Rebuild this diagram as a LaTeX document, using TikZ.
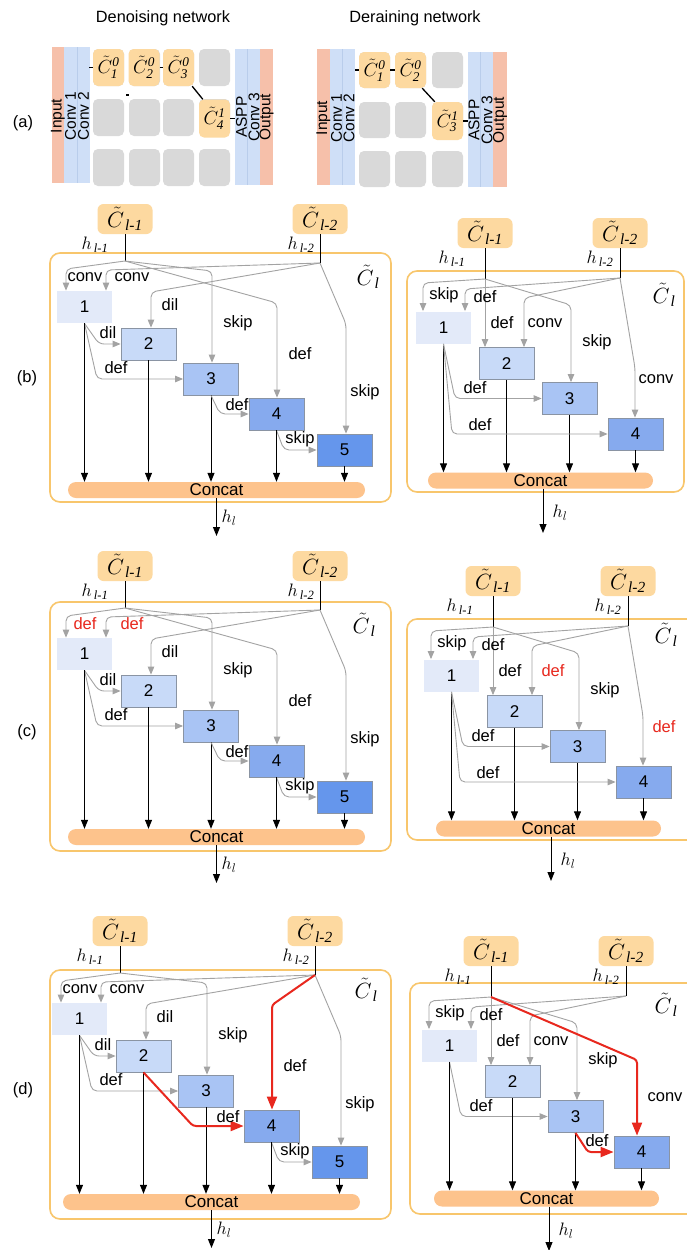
\RequirePackage{fix-cm}
\documentclass[tikz,border=0pt]{standalone}
\usepackage{amsmath}
\usepackage{fontspec}
\setmainfont{Liberation Sans}
\newfontfamily\tms{Liberation Serif}
\usetikzlibrary{arrows.meta}
\definecolor{corange}{HTML}{FDD9A0}
\definecolor{cbox}{HTML}{F8C66C}
\definecolor{cconcat}{HTML}{FDC38C}
\definecolor{cb1}{HTML}{E3EAF9}
\definecolor{cb2}{HTML}{C8DAF8}
\definecolor{cb3}{HTML}{A9C4F4}
\definecolor{cb4}{HTML}{86AAEE}
\definecolor{cb5}{HTML}{6596EC}
\definecolor{cbord}{HTML}{8A94A3}
\definecolor{cgray}{HTML}{A3A3A3}
\definecolor{cred}{HTML}{E8281E}
\definecolor{csalmon}{HTML}{F6C0AA}
\definecolor{cblue}{HTML}{CFDFF7}
\definecolor{cdiv}{HTML}{B9CDEB}
\definecolor{ccell}{HTML}{D9D9D9}
\newcommand\sx[1]{\text{\tms\itshape #1}}
\newcommand\Ct[1]{$\tilde{C}_{\,\sx{#1}}$}
\newcommand\Ca[2]{$\tilde{C}^{\sx{#1}}_{\sx{#2}}$}
\newcommand\hh[1]{$h_{\,\sx{#1}}$}
\tikzset{
 lab/.style={font=\fontsize{16.5}{18}\selectfont, inner sep=0pt},
 ttl/.style={font=\fontsize{16.3}{18}\selectfont, inner sep=0pt},
 rot/.style={font=\fontsize{15.5}{17}\selectfont, inner sep=0pt, rotate=90},
 cnode/.style={rectangle, rounded corners=6pt, fill=corange, minimum width=55pt, minimum height=30pt, inner sep=0pt, font=\fontsize{22}{24}\selectfont},
 ctl/.style={inner sep=0pt, font=\fontsize{22}{24}\selectfont},
 acell/.style={rectangle, rounded corners=5pt, fill=corange, minimum width=31pt, minimum height=37pt, inner sep=0pt, font=\fontsize{19}{22}\selectfont},
 gcell/.style={fill=ccell, rounded corners=5pt},
 hlab/.style={font=\fontsize{18}{20}\selectfont, inner sep=0pt},
 cellbox/.style={draw=cbox, line width=1.6pt, rounded corners=10pt},
 blk/.style={rectangle, minimum width=55pt, minimum height=32pt, inner sep=0pt, draw=cbord, line width=0.8pt, font=\fontsize{17}{18}\selectfont},
 concatbar/.style={rectangle, rounded corners=8pt, fill=cconcat, minimum height=16pt, inner sep=0pt, font=\fontsize{17}{18}\selectfont},
 garrow/.style={draw=cgray, line width=0.9pt, rounded corners=5pt, -{Triangle[length=8pt,width=6.5pt]}},
 barrow/.style={draw=black, line width=1pt, -{Triangle[length=9pt,width=7pt]}},
 rarrow/.style={draw=cred, line width=2pt, rounded corners=3pt, -{Triangle[length=13pt,width=10pt]}},
 jline/.style={draw=black, line width=1pt},
 aline/.style={draw=black, line width=1.3pt},
}
\newcommand\LeftPanel[3]{%
\begin{scope}[shift={#2}]
 \node[cnode] (#1C1) at (125,219) {\Ct{l-1}};
 \node[cnode] (#1C2) at (320,219) {\Ct{l-2}};
 \node[hlab] (#1h1) at (95,244.5) {\hh{l-1}};
 \node[hlab] (#1h2) at (301,244.5) {\hh{l-2}};
 \coordinate (#1J1) at (125,261);
 \coordinate (#1J2) at (320,263);
 \node[blk,fill=cb1,draw=none] (#1n1) at (84.5,307) {1};
 \node[blk,fill=cb2] (#1n2) at (148.5,344) {2};
 \node[blk,fill=cb3] (#1n3) at (211,379) {3};
 \node[blk,fill=cb4] (#1n4) at (276.5,414) {4};
 \node[blk,fill=cb5] (#1n5) at (344.5,450) {5};
 \node[concatbar,minimum width=297pt] (#1cc) at (216.5,490) {Concat};
 \coordinate (#1out) at (216.5,536);
 \node[hlab] (#1hl) at (229,518) {$h_l$};
 \draw[jline] (#1C1) -- (#1J1);
 \draw[jline] (#1C2) -- (#1J2);
 \draw[garrow] (#1J1) -- (66,269) -- (66,0 |- #1n1.north);
 \draw[garrow] (#1J2) -- (106,270) -- (106,0 |- #1n1.north);
 \draw[garrow] (#1J2) -- (151,292) -- (151,0 |- #1n2.north);
 \draw[garrow] (#1J1) -- (212,271) -- (212,0 |- #1n3.north);
 \draw[garrow] (#1J2) -- (346,324) -- (346,0 |- #1n5.north);
 \draw[garrow] (#1n1.south) -- (99,344) -- (#1n2.west);
 \draw[garrow] (#1n1.south) -- (97,379) -- (#1n3.west);
 \draw[garrow] (#1n4.south) -- (284,450) -- (#1n5.west);
 \foreach \k in {1,...,5}{\draw[barrow] (#1n\k.south) -- (#1n\k.south |- #1cc.north);}
 \draw[barrow] (#1cc.south) -- (#1out);
 \node[lab] (#1t1) at (85,277) {#3};
 \node[lab] (#1t2) at (132,277) {#3};
 \node[lab] (#1t3) at (170,305) {dil};
 \node[lab] (#1t4) at (238,323) {skip};
 \node[lab] (#1t5) at (365,392) {skip};
 \node[lab] (#1t6) at (108,333) {dil};
 \node[lab] (#1t7) at (116,368) {def};
 \node[lab] (#1t8) at (300,439) {skip};
\end{scope}}
\newcommand\RightPanel[3]{%
\begin{scope}[shift={#2}]
 \node[cnode] (#1C1) at (485,233) {\Ct{l-1}};
 \node[cnode] (#1C2) at (620,233) {\Ct{l-2}};
 \node[hlab] (#1h1) at (452,259) {\hh{l-1}};
 \node[hlab] (#1h2) at (600,259) {\hh{l-2}};
 \coordinate (#1J1) at (485,279);
 \coordinate (#1J2) at (620,278);
 \node[blk,fill=cb1,draw=none] (#1n1) at (443.5,327.5) {1};
 \node[blk,fill=cb2] (#1n2) at (506.5,363.5) {2};
 \node[blk,fill=cb3] (#1n3) at (569.5,398.5) {3};
 \node[blk,fill=cb4] (#1n4) at (635.5,434) {4};
 \node[concatbar,minimum width=225pt] (#1cc) at (540.5,480.5) {Concat};
 \coordinate (#1out) at (543,533);
 \node[hlab] (#1hl) at (560,513) {$h_l$};
 \draw[jline] (#1C1) -- (#1J1);
 \draw[jline] (#1C2) -- (#1J2);
 \draw[garrow] (#1J1) -- (423,283) -- (423,0 |- #1n1.north);
 \draw[garrow] (#1J2) -- (465,289) -- (465,0 |- #1n1.north);
 \draw[garrow] (#1J1) -- (#1J1 |- #1n2.north);
 \draw[garrow] (#1J2) -- (524,298) -- (524,0 |- #1n2.north);
 \draw[garrow] (#1J1) -- (571,305) -- (571,0 |- #1n3.north);
 \draw[garrow] (#1n1.south) -- (455,398.5) -- (#1n3.west);
 \foreach \k in {1,...,4}{\draw[barrow] (#1n\k.south) -- (#1n\k.south |- #1cc.north);}
 \draw[barrow] (#1out |- #1cc.south) -- (#1out);
 \node[lab] (#1t1) at (444,295) {skip};
 \node[lab] (#1t2) at (485,297) {def};
 \node[lab] (#1t3) at (502,323) {def};
 \node[lab] (#1t4) at (545,323) {#3};
 \node[lab] (#1t5) at (597,342) {skip};
 \node[lab] (#1t6) at (475,388) {def};
\end{scope}}
\begin{document}
\begin{tikzpicture}[x=1pt,y=-1pt]
\useasboundingbox (0,0) rectangle (686,1250);
\fill[white] (0,0) rectangle (686,1250);
% titles
\node[ttl] (tDen) at (163,18) {Denoising network};
\node[ttl] (tDer) at (415,18) {Deraining network};
\node[lab] (pa) at (23,123) {(a)};
\node[lab] (pb) at (27,378) {(b)};
\node[lab] (pc) at (27,732) {(c)};
\node[lab] (pd) at (23,1090) {(d)};
% ---------- (a) left
\fill[csalmon] (52,47) rectangle (64,183);
\fill[cblue] (64,47) rectangle (90,183);
\draw[cdiv] (77,47) -- (77,183);
\node[rot] (aLin) at (58,116) {Input};
\node[rot] (aLc1) at (70.5,116) {Conv 1};
\node[rot] (aLc2) at (83.5,116) {Conv 2};
\foreach \cx in {93,129,163,199}{\foreach \cy in {49,99,149}{\fill[gcell] (\cx,\cy) rectangle ++(31,37);}}
\node[acell] (aL1) at (108.5,67.5) {\Ca{0}{1}};
\node[acell] (aL2) at (144,67.5) {\Ca{0}{2}};
\node[acell] (aL3) at (178.5,67.5) {\Ca{0}{3}};
\node[acell,minimum height=38pt] (aL4) at (214.5,118.5) {\Ca{1}{4}};
\fill[cblue] (235,49) rectangle (260,185);
\draw[cdiv] (247.5,49) -- (247.5,185);
\fill[csalmon] (260,49) rectangle (273,185);
\node[rot] (aLas) at (241.5,117) {ASPP};
\node[rot] (aLc3) at (254,117) {Conv 3};
\node[rot] (aLout) at (266.5,117) {Output};
\draw[aline] (aL1.west) -- ++(-4,0);
\draw[aline] (aL2.east) -- (aL3.west);
\draw[aline] (126,95) -- (129,95);
\draw[aline] ([xshift=-2pt]aL3.south east) -- ([xshift=4pt]aL4.north west);
\draw[aline] (aL4.east) -- (235,118.5);
% ---------- (a) right
\fill[csalmon] (317,49) rectangle (330,185);
\fill[cblue] (330,49) rectangle (355,185);
\draw[cdiv] (342.5,49) -- (342.5,185);
\node[rot] (aRin) at (323.5,118) {Input};
\node[rot] (aRc1) at (336.5,118) {Conv 1};
\node[rot] (aRc2) at (349,118) {Conv 2};
\foreach \cx in {359,395,432}{\foreach \cy in {52,102,151}{\fill[gcell] (\cx,\cy) rectangle ++(31,36);}}
\node[acell,minimum height=36pt] (aR1) at (374.5,70) {\Ca{0}{1}};
\node[acell,minimum height=36pt] (aR2) at (410.5,70) {\Ca{0}{2}};
\node[acell,minimum height=38pt] (aR3) at (447.5,121) {\Ca{1}{3}};
\fill[cblue] (468,52) rectangle (493,187);
\draw[cdiv] (480.5,52) -- (480.5,187);
\fill[csalmon] (493,52) rectangle (507,187);
\node[rot] (aRas) at (474,120) {ASPP};
\node[rot] (aRc3) at (487,120) {Conv 3};
\node[rot] (aRout) at (500,120) {Output};
\draw[aline] (aR1.west) -- ++(-4,0);
\draw[aline] (aR1.east) -- (aR2.west);
\draw[aline] ([xshift=-4pt]aR2.south east) -- ([xshift=3pt]aR3.north west);
\draw[aline] (aR3.east) -- (468,121);
% ---------- outer cell boxes
\draw[cellbox] (50,253) rectangle (391,502);
\draw[cellbox] (50,602) rectangle (391,851);
\draw[cellbox] (50,970) rectangle (391,1219);
\draw[cellbox] (407,271) rectangle (684,492);
\draw[cellbox] (407,619) rectangle (700,840);
\draw[cellbox] (410,983) rectangle (700,1214);
\node[ctl] (bLCl) at (368,277) {$\tilde{C}_{\,\sx{l}}$};
\node[ctl] (cLCl) at (364,625) {$\tilde{C}_{\,\sx{l}}$};
\node[ctl] (dLCl) at (366,990) {$\tilde{C}_{\,\sx{l}}$};
\node[ctl] (bRCl) at (664,295) {$\tilde{C}_{\,\sx{l}}$};
\node[ctl] (cRCl) at (666,635) {$\tilde{C}_{\,\sx{l}}$};
\node[ctl] (dRCl) at (666,1005) {$\tilde{C}_{\,\sx{l}}$};
% ---------- (b)
\LeftPanel{bL}{(0,0)}{conv}
\begin{scope}
 \draw[garrow] (bLJ1) -- (277,303) -- (277,0 |- bLn4.north);
 \draw[garrow] (bLn3.south) -- (220,414) -- (bLn4.west);
 \node[lab] (bLx1) at (300,354) {def};
 \node[lab] (bLx2) at (237,405) {def};
\end{scope}
\RightPanel{bR}{(0,0)}{conv}
\begin{scope}
 \draw[garrow] (bRJ2) -- (635,368) -- (635,0 |- bRn4.north);
 \draw[garrow] (bRn1.south) -- (452,434) -- (bRn4.west);
 \node[lab] (bRx1) at (656,379) {conv};
 \node[lab] (bRx2) at (480,425) {def};
\end{scope}
% ---------- (c)
\LeftPanel{cL}{(0,347)}{\color{cred}def}
\begin{scope}[shift={(0,347)}]
 \draw[garrow] (cLJ1) -- (277,303) -- (277,0 |- cLn4.north);
 \draw[garrow] (cLn3.south) -- (220,414) -- (cLn4.west);
 \node[lab] (cLx1) at (300,354) {def};
 \node[lab] (cLx2) at (237,405) {def};
\end{scope}
\RightPanel{cR}{(8,348)}{\color{cred}def}
\begin{scope}[shift={(8,348)}]
 \draw[garrow] (cRJ2) -- (635,368) -- (635,0 |- cRn4.north);
 \draw[garrow] (cRn1.south) -- (452,434) -- (cRn4.west);
 \node[lab,text=cred] (cRx1) at (656,379) {def};
 \node[lab] (cRx2) at (480,425) {def};
\end{scope}
% ---------- (d)
\LeftPanel{dL}{(-5,712)}{conv}
\begin{scope}[shift={(-5,712)}]
 \draw[rarrow] (dLJ2) -- (277,293) -- (277,0 |- dLn4.north);
 \draw[rarrow] (dLn2.south) -- (198,414) -- (dLn4.west);
 \node[lab] (dLx1) at (300,354) {def};
 \node[lab] (dLx2) at (233,405) {def};
\end{scope}
\RightPanel{dR}{(6,718)}{conv}
\begin{scope}[shift={(6,718)}]
 \draw[rarrow] (dRJ1) -- (631,342) -- (631,0 |- dRn4.north);
 \draw[rarrow] (dRn3.south) -- (582,434) -- (dRn4.west);
 \node[lab] (dRx1) at (659,379) {conv};
 \node[lab] (dRx2) at (591,423) {def};
\end{scope}
\end{tikzpicture}
\end{document}
